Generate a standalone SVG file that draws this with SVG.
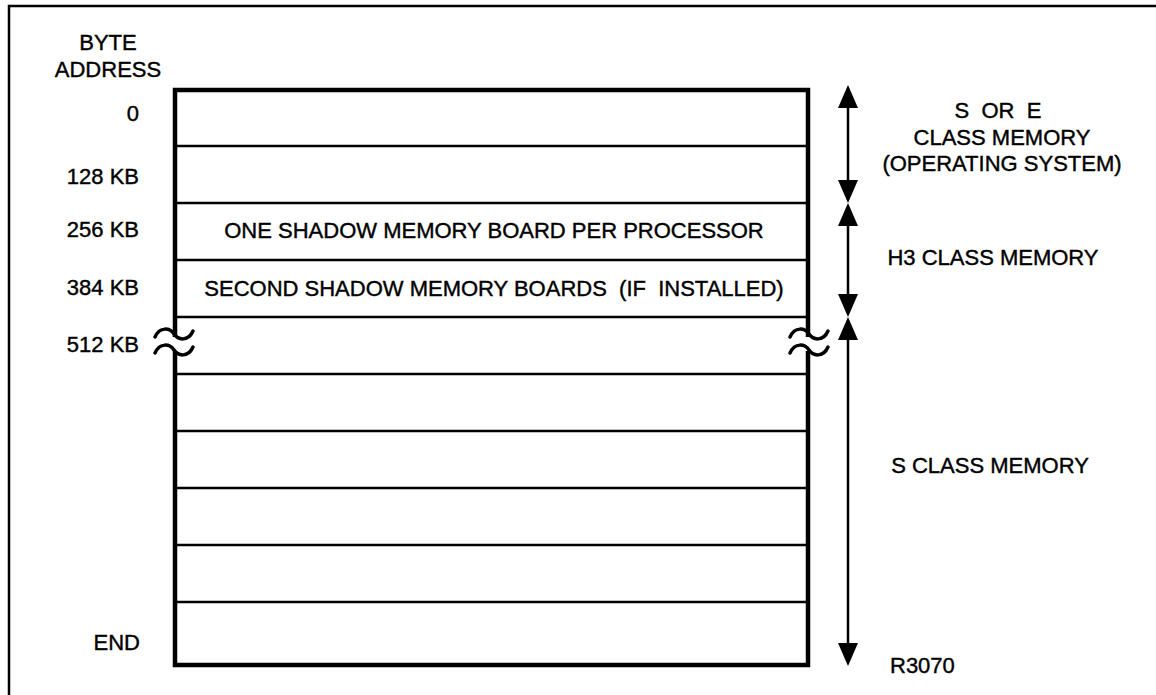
<svg xmlns="http://www.w3.org/2000/svg" width="1156" height="695" viewBox="0 0 1156 695">
<style>
text{font-family:"Liberation Sans",Arial,sans-serif;font-size:22px;fill:#000;stroke:#000;stroke-width:0.4;white-space:pre}
.r{text-anchor:end}
.m{text-anchor:middle}
.thin{stroke:#000;stroke-width:2.5;fill:none}
.sq{stroke:#000;stroke-width:3.5;fill:none;stroke-linecap:round}
.ah{fill:#000}
</style>
<rect width="1156" height="695" fill="#fff"/>
<g id="frame">
<path class="thin" d="M9,695 V6 H1156"/>
</g>
<g id="labels">
<text class="m" x="108" y="50">BYTE</text>
<text class="m" x="108" y="77">ADDRESS</text>
<text class="r" x="139" y="121">0</text>
<text class="r" x="139" y="184">128 KB</text>
<text class="r" x="139" y="237">256 KB</text>
<text class="r" x="139" y="295">384 KB</text>
<text class="r" x="139" y="352">512 KB</text>
<text class="r" x="140" y="650">END</text>
</g>
<g id="memory-map">
<rect x="175" y="90" width="633" height="575" fill="none" stroke="#000" stroke-width="4.5"/>
<path class="thin" d="M175,146H808 M175,203H808 M175,260H808 M175,317H808 M175,374H808 M175,431H808 M175,488H808 M175,545H808 M175,602H808"/>
<text class="m" x="494" y="238">ONE SHADOW MEMORY BOARD PER PROCESSOR</text>
<text class="m" x="494" y="296">SECOND SHADOW MEMORY BOARDS  (IF  INSTALLED)</text>
</g>
<g id="breaks">
<rect x="171" y="337" width="9" height="14" fill="#fff"/>
<rect x="804" y="337" width="9" height="14" fill="#fff"/>
<path class="sq" d="M155,337 C160,326 170,328 174,334 S188,342 193,331"/>
<path class="sq" d="M155,353 C160,342 170,344 174,350 S188,358 193,347"/>
<path class="sq" d="M790,337 C795,326 805,328 809,334 S823,342 828,331"/>
<path class="sq" d="M790,353 C795,342 805,344 809,350 S823,358 828,347"/>
</g>
<g id="connectors">
<path class="thin" d="M848,106V182 M848,224V296 M848,338V645"/>
<polygon class="ah" points="848,85 838,108 858,108"/>
<polygon class="ah" points="848,203 838,180 858,180"/>
<polygon class="ah" points="848,203 838,226 858,226"/>
<polygon class="ah" points="848,317 838,294 858,294"/>
<polygon class="ah" points="848,317 838,340 858,340"/>
<polygon class="ah" points="848,666 838,643 858,643"/>
</g>
<g id="region-labels">
<text class="m" x="998" y="118">S  OR  E</text>
<text class="m" x="1002" y="145">CLASS MEMORY</text>
<text class="m" x="1002" y="171">(OPERATING SYSTEM)</text>
<text class="m" x="993" y="265">H3 CLASS MEMORY</text>
<text class="m" x="990" y="473">S CLASS MEMORY</text>
<text x="890" y="673">R3070</text>
</g>
</svg>
